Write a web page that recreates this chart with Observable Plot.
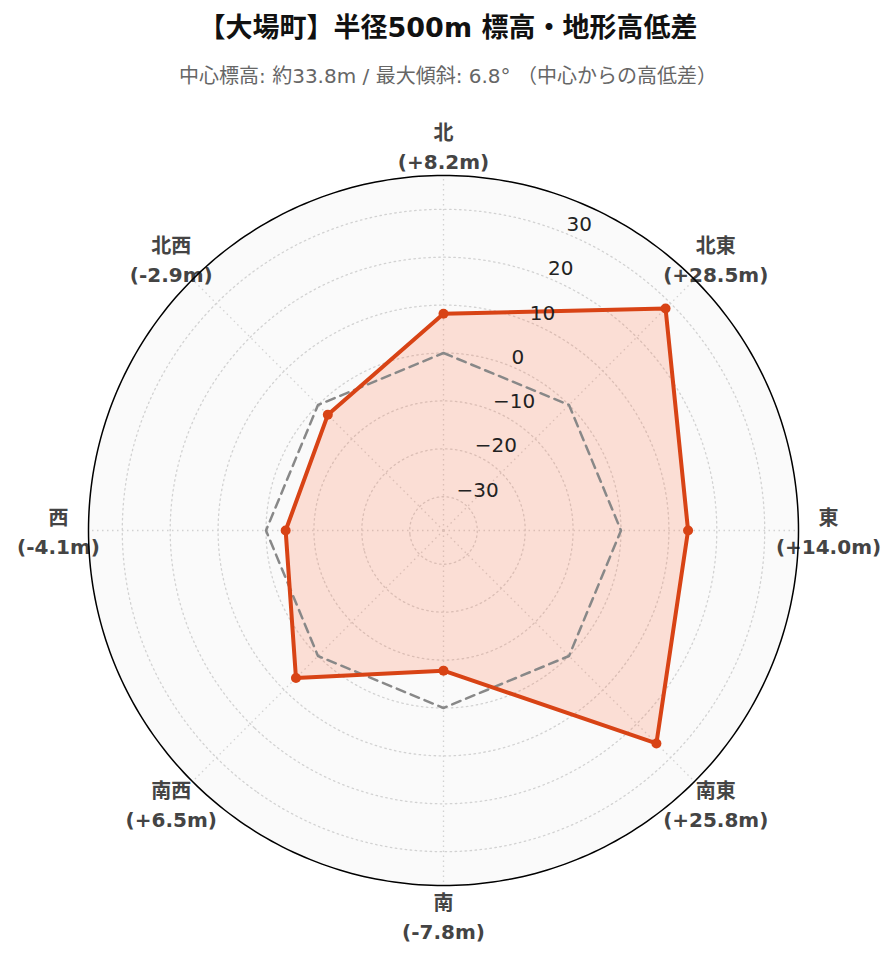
<!DOCTYPE html>
<html><head><meta charset="utf-8">
<script src="https://cdn.jsdelivr.net/npm/d3@7"></script>
<script src="https://cdn.jsdelivr.net/npm/@observablehq/plot@0.6"></script>
<style>
body{margin:0;background:#fff;font-family:"DejaVu Sans","Noto Sans CJK JP",sans-serif;}
#wrap{position:relative;width:896px;height:962px;}
#title{position:absolute;left:0;width:896px;top:11px;line-height:34px;text-align:center;font-size:27px;font-weight:bold;color:#111;}
#subtitle{position:absolute;left:0;width:896px;top:63px;line-height:26px;text-align:center;font-size:20px;color:#666;}
#chart{position:absolute;left:0;top:100px;}
</style></head><body>
<div id="wrap">
<div id="title">【大場町】半径500m 標高・地形高低差</div>
<div id="subtitle">中心標高: 約33.8m / 最大傾斜: 6.8° （中心からの高低差）</div>
<div id="chart"></div>
</div>
<script>
const directions = ["北","北東","東","南東","南","南西","西","北西"];
const bearings = [0,45,90,135,180,225,270,315];
const values = [8.2,28.5,14.0,25.8,-7.8,6.5,-4.1,-2.9];
const referenceValues = [0,0,0,0,0,0,0,0];
const radialTicks = [-30,-20,-10,0,10,20,30];
const radialRange = [-37.05, 37.05];
const tickBearing = 22.5;

const R = 60; // outer circle in projection degrees
const rdeg = v => (v - radialRange[0]) / (radialRange[1] - radialRange[0]) * R;
const lon = b => 180 - b;
const lat = v => 90 - rdeg(v);
const circle = r => d3.geoCircle().center([0, 90]).radius(r).precision(1)();
const labelR = R * 385 / 355;

const data = directions.map((d, i) => ({dir: d, bearing: bearings[i], value: values[i], ref: referenceValues[i]}));
const fmt = v => (v >= 0 ? "+" : "") + v.toFixed(1);
const tickFmt = v => v < 0 ? "\u2212" + Math.abs(v) : String(v);
const FONT = '"DejaVu Sans","Noto Sans CJK JP",sans-serif';
const gridStyle = {stroke: "#d2d2d2", strokeWidth: 1.3, strokeDasharray: "1.5,3.5"};

const chart = Plot.plot({
  width: 896,
  height: 862,
  marginTop: 75, marginBottom: 77, marginLeft: 88, marginRight: 98,
  style: {fontFamily: FONT, background: "transparent", overflow: "visible"},
  projection: {type: "azimuthal-equidistant", rotate: [0, -90], domain: circle(R), clip: false},
  marks: [
    Plot.geo([R], {geometry: r => circle(r), fill: "#fafafa", stroke: "none"}),
    Plot.geo(radialTicks, {geometry: v => circle(rdeg(v)), fill: "none", ...gridStyle}),
    Plot.link(bearings, {x1: b => lon(b), y1: 90, x2: b => lon(b), y2: 90 - R, ...gridStyle}),
    Plot.text(data, {x: d => lon(d.bearing), y: 90 - labelR, text: d => `${d.dir}\n(${fmt(d.value)}m)`,
      fontSize: 20, fontWeight: "bold", fill: "#444", lineHeight: 29/20, lineAnchor: "middle", textAnchor: "middle", fontFamily: FONT}),
    Plot.line(data, {x: d => lon(d.bearing), y: d => lat(d.value), curve: "linear-closed", fill: "#ff7043", fillOpacity: 0.2, stroke: "none"}),
    Plot.line(data, {x: d => lon(d.bearing), y: d => lat(d.ref), curve: "linear-closed", stroke: "#888", strokeWidth: 2.5, strokeDasharray: "9,6", fill: "none"}),
    Plot.line(data, {x: d => lon(d.bearing), y: d => lat(d.value), curve: "linear-closed", stroke: "#d84315", strokeWidth: 4, fill: "none", strokeLinejoin: "round"}),
    Plot.dot(data, {x: d => lon(d.bearing), y: d => lat(d.value), r: 5, fill: "#d84315", stroke: "none"}),
    Plot.text(radialTicks, {x: lon(tickBearing), y: v => lat(v), text: v => tickFmt(v), textAnchor: "start", dy: -9,
      fontSize: 20, fill: "#222", fontFamily: FONT}),
    Plot.geo([R], {geometry: r => circle(r), fill: "none", stroke: "#000", strokeWidth: 1.5})
  ]
});
document.getElementById("chart").appendChild(chart);
</script>
</body></html>
